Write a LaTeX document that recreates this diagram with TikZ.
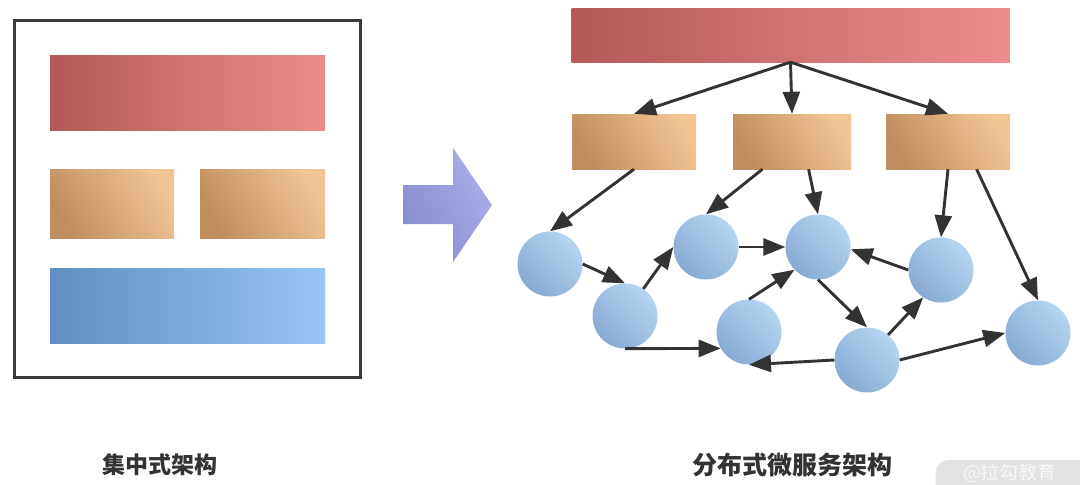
\documentclass[tikz,border=0pt]{standalone}
\usepackage{fontspec}
\newfontfamily\cjk{Noto Sans CJK SC}
\usetikzlibrary{arrows.meta,calc}
\definecolor{lineC}{HTML}{333333}
\definecolor{frameC}{HTML}{3A3A3A}
\definecolor{redL}{HTML}{B45957}
\definecolor{redR}{HTML}{EC8D8B}
\definecolor{tanD}{HTML}{C08D5E}
\definecolor{tanL}{HTML}{F2C494}
\definecolor{blueL}{HTML}{5F8EC2}
\definecolor{blueR}{HTML}{97C5F6}
\definecolor{circD}{HTML}{88AAD2}
\definecolor{circL}{HTML}{B6D5F3}
\definecolor{arrD}{HTML}{878CD0}
\definecolor{arrL}{HTML}{ABADEB}
\definecolor{textC}{HTML}{333333}
\definecolor{wmFill}{HTML}{E2E2E2}
\definecolor{wmText}{HTML}{F7F7F7}
\begin{document}
\begin{tikzpicture}[x=1pt,y=-1pt,
  redbar/.style={rectangle, inner sep=0pt, left color=redL, right color=redR},
  bluebar/.style={rectangle, inner sep=0pt, left color=blueL, right color=blueR},
  tanbox/.style={rectangle, inner sep=0pt, shading=axis, top color=tanL, bottom color=tanD, shading angle=-60},
  svc/.style={circle, inner sep=0pt, minimum size=65pt, shading=axis, top color=circL, bottom color=circD, shading angle=-45},
  arr/.style={draw=lineC, line width=2.9pt, -{Triangle[length=22pt,width=17pt]}},
  lbl/.style={font=\cjk\bfseries\fontsize{23}{28}\selectfont, text=textC, inner sep=0pt}
]
\useasboundingbox (0,0) rectangle (1080,485);
\clip (0,0) rectangle (1080,485);
\fill[white] (0,0) rectangle (1080,485);

% ---------- left: centralized ----------
\node[draw=frameC, line width=3pt, minimum width=346pt, minimum height=357pt, inner sep=0pt] (frame) at (187,198.5) {};
\node[redbar, minimum width=275pt, minimum height=75pt] (lred) at (187.5,92.5) {};
\node[tanbox, minimum width=124pt, minimum height=69pt] (ltan1) at (112,203.5) {};
\node[tanbox, minimum width=125pt, minimum height=69pt] (ltan2) at (262.5,203.5) {};
\node[bluebar, minimum width=275pt, minimum height=75pt] (lblue) at (187.5,305.5) {};
\node[lbl] (llabel) at (160,465) {集中式架构};

% ---------- big arrow ----------
\shade[top color=arrL, bottom color=arrD, shading angle=-60]
  (403,185) -- (453,185) -- (453,148) -- (492,205) -- (453,262) -- (453,224) -- (403,224) -- cycle;

% ---------- right: microservices ----------
\node[redbar, minimum width=438pt, minimum height=54pt] (top) at (790.5,35) {};
\node[tanbox, minimum width=124pt, minimum height=55pt] (b1) at (634,141.5) {};
\node[tanbox, minimum width=118pt, minimum height=55pt] (b2) at (792,141.5) {};
\node[tanbox, minimum width=124pt, minimum height=55pt] (b3) at (948,141.5) {};

\node[svc] (c1) at (550,264) {};
\node[svc] (c2) at (625,316) {};
\node[svc] (c3) at (706,247) {};
\node[svc] (c4) at (818,247) {};
\node[svc] (c5) at (749,332) {};
\node[svc] (c6) at (941,270) {};
\node[svc] (c7) at (867,360) {};
\node[svc] (c8) at (1038,333) {};

\draw[arr] (top.south) -- (b1.north);
\draw[arr] (top.south) -- (b2.north);
\draw[arr] (top.south) -- (b3.north);
\draw[arr] (b1.south) -- (c1.north);
\draw[arr] ($(b2.south west)!0.25!(b2.south east)$) -- (c3.north);
\draw[arr] ($(b2.south west)!0.64!(b2.south east)$) -- (c4.north);
\draw[arr] (b3.south) -- (c6.north);
\draw[arr] ($(b3.south west)!0.73!(b3.south east)$) -- (c8.north);
\draw[arr] (c1.east) -- (c2.north);
\draw[arr] (c2.56) -- (c3.west);
\draw[arr] (c3.east) -- (c4.west);
\draw[arr] (c2.south) -- (c5.210);
\draw[arr] (c5.north) -- (c4.224);
\draw[arr] (c6.west) -- (c4.356);
\draw[arr] (c4.south) -- (c7.north);
\draw[arr] (c7.50) -- (c6.237);
\draw[arr] (c7.west) -- (c5.south);
\draw[arr] (c7.east) -- (c8.west);

\node[lbl, font=\cjk\bfseries\fontsize{25}{30}\selectfont] (rlabel) at (792,465) {分布式微服务架构};

% ---------- watermark ----------
\node[fill=wmFill, rounded corners=13pt, minimum width=165pt, minimum height=46pt, inner sep=0pt] (wm) at (1018,483) {};
\node[font=\cjk\fontsize{19}{23}\selectfont, text=wmText, inner sep=0pt] (wmtext) at (1010,473) {@拉勾教育};
\end{tikzpicture}
\end{document}
